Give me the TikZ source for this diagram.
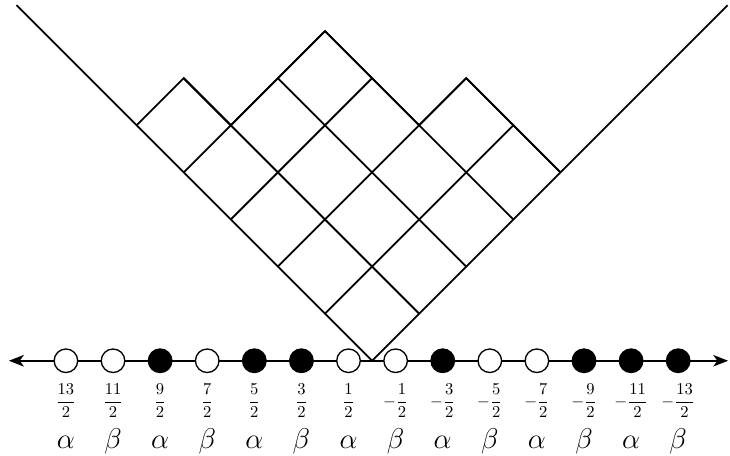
\documentclass[tikz,border=0pt]{standalone}
\usepackage{amsmath}
\usepackage{amssymb}
\usepackage{tikz}
\usetikzlibrary{arrows.meta}
\tikzstyle{hole} = [circle, 
minimum size=0.5cm, 
inner sep=0pt, 
thick, 
draw=black, 
fill=white]
\tikzstyle{particle} = [circle, 
minimum size=0.5cm, 
inner sep=0pt, 
thick, 
draw=black, 
fill=black]
\tikzstyle{charge} = [yshift=0.15cm]
\tikzstyle{colour} = [yshift=0.13cm, 
font=\LARGE, 
text height=12pt, 
text depth=4pt]
\tikzstyle{wall} = [line width=1.1pt]
\tikzstyle{arrow} = [line width=1pt,<->,>={Stealth[length=9pt,width=7pt,inset=2.5pt]}]

\begin{document}
\begin{tikzpicture}[node distance=1cm]

    \useasboundingbox (-7.9,-2.02) rectangle (7.6,7.66);

    % the diagram, drawn rotated
    \draw [wall] (-7.55,7.55) -- (0,0) -- (7.55,7.55);
    \draw [wall] (-5,5) -- (-4,6) -- (-3,5) -- (-1,7) -- (1,5) -- (2,6) -- (4,4);
    \draw [wall] (1,1) -- (-4,6);
    \draw [wall] (2,2) -- (-2,6);
    \draw [wall] (3,3) -- (-1,7);
    \draw [wall] (4,4) -- (2,6);
    \draw [wall] (-1,1) -- (3,5);
    \draw [wall] (-2,2) -- (2,6);
    \draw [wall] (-3,3) -- (0,6);
    \draw [wall] (-4,4) -- (-1,7);

    \coordinate (west) at (-7.71,0);
    \coordinate (east) at (7.56,0);
    \draw [arrow] (west) -- (east);

    \node (s1) [hole] at (-6.5,0) {};
    \node (s2) [hole, right of=s1] {};
    \node (s3) [particle, right of=s2] {};
    \node (s4) [hole, right of=s3] {};
    \node (s5) [particle, right of=s4] {};
    \node (s6) [particle, right of=s5] {};
    \node (s7) [hole, right of=s6] {};
    \node (s8) [hole, right of=s7] {};
    \node (s9) [particle, right of=s8] {};
    \node (s10) [hole, right of=s9] {};
    \node (s11) [hole, right of=s10] {};
    \node (s12) [particle, right of=s11] {};
    \node (s13) [particle, right of=s12] {};
    \node (s14) [particle, right of=s13] {};

    \node (q1) [charge, below of=s1] {$\dfrac{13}{2}$};
    \node (q2) [charge, below of=s2] {$\dfrac{11}{2}$};
    \node (q3) [charge, below of=s3] {$\dfrac{9}{2}$};
    \node (q4) [charge, below of=s4] {$\dfrac{7}{2}$};
    \node (q5) [charge, below of=s5] {$\dfrac{5}{2}$};
    \node (q6) [charge, below of=s6] {$\dfrac{3}{2}$};
    \node (q7) [charge, below of=s7] {$\dfrac{1}{2}$};
    \node (q8) [charge, below of=s8] {$-\dfrac{1}{2}$};
    \node (q9) [charge, below of=s9] {$-\dfrac{3}{2}$};
    \node (q10) [charge, below of=s10] {$-\dfrac{5}{2}$};
    \node (q11) [charge, below of=s11] {$-\dfrac{7}{2}$};
    \node (q12) [charge, below of=s12] {$-\dfrac{9}{2}$};
    \node (q13) [charge, below of=s13] {$-\dfrac{11}{2}$};
    \node (q14) [charge, below of=s14] {$-\dfrac{13}{2}$};

    \node (g1) [colour, below of=q1] {$\alpha$};
    \node (g2) [colour, below of=q2] {$\beta$};
    \node (g3) [colour, below of=q3] {$\alpha$};
    \node (g4) [colour, below of=q4] {$\beta$};
    \node (g5) [colour, below of=q5] {$\alpha$};
    \node (g6) [colour, below of=q6] {$\beta$};
    \node (g7) [colour, below of=q7] {$\alpha$};
    \node (g8) [colour, below of=q8] {$\beta$};
    \node (g9) [colour, below of=q9] {$\alpha$};
    \node (g10) [colour, below of=q10] {$\beta$};
    \node (g11) [colour, below of=q11] {$\alpha$};
    \node (g12) [colour, below of=q12] {$\beta$};
    \node (g13) [colour, below of=q13] {$\alpha$};
    \node (g14) [colour, below of=q14] {$\beta$};

\end{tikzpicture}
\end{document}
